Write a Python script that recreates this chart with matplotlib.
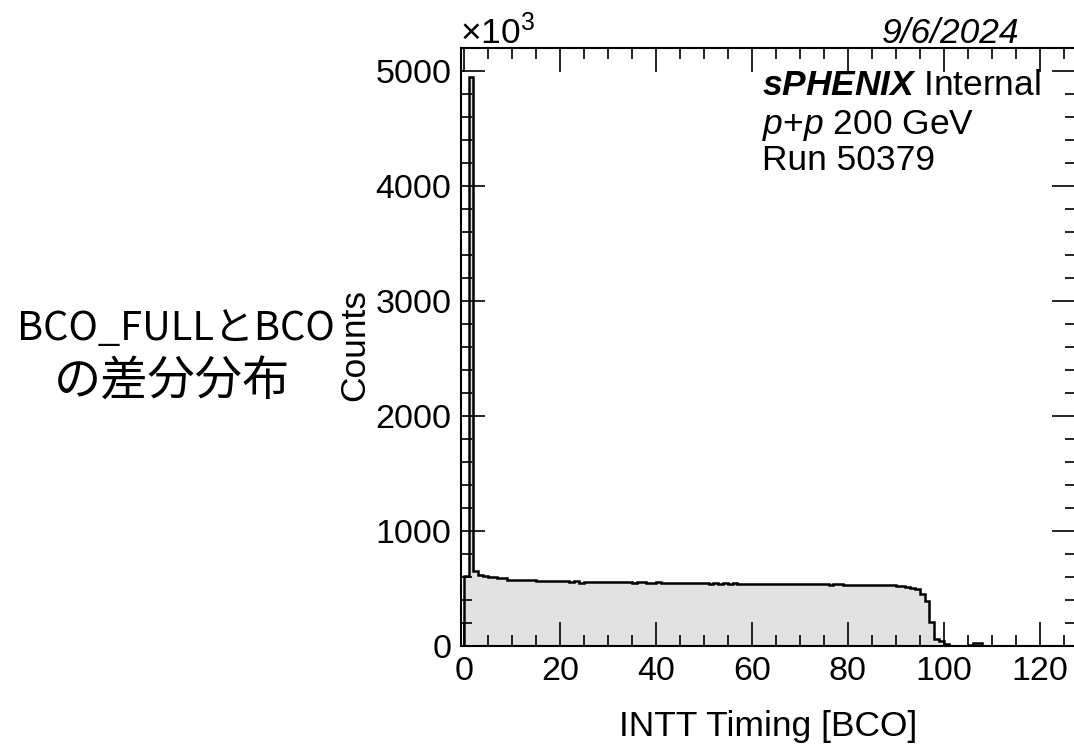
import matplotlib
matplotlib.use("Agg")
import matplotlib.pyplot as plt
import numpy as np
from matplotlib.ticker import MultipleLocator

plt.rcParams["font.family"] = ["Liberation Sans", "DejaVu Sans"]
plt.rcParams["mathtext.fontset"] = "custom"
plt.rcParams["mathtext.rm"] = "Liberation Sans"
plt.rcParams["mathtext.it"] = "Liberation Sans:italic"
plt.rcParams["mathtext.bf"] = "Liberation Sans:bold:italic"

# counts per BCO bin [k, k+1), in units of 10^3
counts = [
    605, 4950, 650, 620, 612, 600, 602, 590, 588, 578,
    575, 572, 573, 570, 571, 568, 569, 566, 567, 565,
    563, 562, 560, 561, 552, 560, 558, 555, 556, 553,
    555, 558, 554, 556, 557, 552, 553, 556, 550, 552,
    553, 548, 551, 549, 552, 547, 545, 548, 544, 546,
    545, 542, 546, 540, 544, 541, 545, 539, 543, 541,
    538, 542, 537, 540, 536, 539, 537, 535, 538, 536,
    540, 537, 539, 541, 536, 538, 534, 537, 535, 532,
    534, 531, 533, 528, 530, 532, 528, 530, 527, 529,
    524, 520, 515, 503, 498, 455, 390, 210, 60, 42,
    18, 4, 3, 3, 3, 10, 28, 30, 3, 0,
    0, 0, 0, 0, 0, 0, 0, 0, 0, 0,
    0, 0, 0, 0, 0, 0, 0, 0,
]
bin_edges = np.arange(len(counts) + 1)

x_title = "INTT Timing [BCO]"
y_title = "Counts"
side_line1 = "BCO_FULLとBCO"
side_line2 = "の差分分布"

fig = plt.figure(figsize=(10.74, 7.44), dpi=100)
ax = fig.add_axes([0.4292, 0.1317, 0.5725, 0.8038])

ax.stairs(counts, bin_edges, fill=True, color="#e2e2e2", baseline=0)
ax.stairs(counts, bin_edges, color="black", lw=1.8, baseline=0)

ax.set_xlim(-0.6, 127.5)
ax.set_ylim(0, 5200)

ax.xaxis.set_major_locator(MultipleLocator(20))
ax.xaxis.set_minor_locator(MultipleLocator(5))
ax.yaxis.set_major_locator(MultipleLocator(1000))
ax.yaxis.set_minor_locator(MultipleLocator(200))
ax.tick_params(which="both", direction="in", top=True, right=True,
               labelsize=24.5, width=1.2)
ax.tick_params(which="major", length=17)
ax.tick_params(which="minor", length=8)
ax.tick_params(axis="x", pad=7)
ax.tick_params(axis="y", pad=7)
for s in ax.spines.values():
    s.set_linewidth(1.5)

ax.set_xlabel(x_title, fontsize=25.5)
ax.xaxis.label.set_va("center")
ax.xaxis.set_label_coords(0.5, -0.135)
ax.set_ylabel(y_title, fontsize=25.5)
ax.yaxis.label.set_va("center")
ax.yaxis.set_label_coords(-0.173, 0.503)

# multiplier and date above the frame
ax.text(-0.002, 1.007, r"$\mathregular{\times10^{3}}$", transform=ax.transAxes,
        fontsize=25.5, ha="left", va="baseline")
ax.text(0.908, 1.008, "9/6/2024", transform=ax.transAxes, fontsize=25.5,
        fontstyle="italic", ha="right", va="baseline")

# labels inside the frame
ax.text(0.490, 0.937, r"$\mathbf{sPHENIX}$ Internal", transform=ax.transAxes,
        fontsize=25.5, ha="left", va="center")
ax.text(0.490, 0.871, r"$\mathit{p}$+$\mathit{p}$ 200 GeV", transform=ax.transAxes,
        fontsize=25.5, ha="left", va="center")
ax.text(0.490, 0.812, "Run 50379", transform=ax.transAxes,
        fontsize=25.5, ha="left", va="center")

cjk = ["Noto Sans CJK JP", "DejaVu Sans"]
fig.text(0.1634, 0.543, side_line1, fontsize=28.7, ha="center", va="baseline",
         family=cjk)
fig.text(0.1606, 0.469, side_line2, fontsize=34, ha="center", va="baseline",
         family=cjk)

fig.savefig("out.png", dpi=100)
